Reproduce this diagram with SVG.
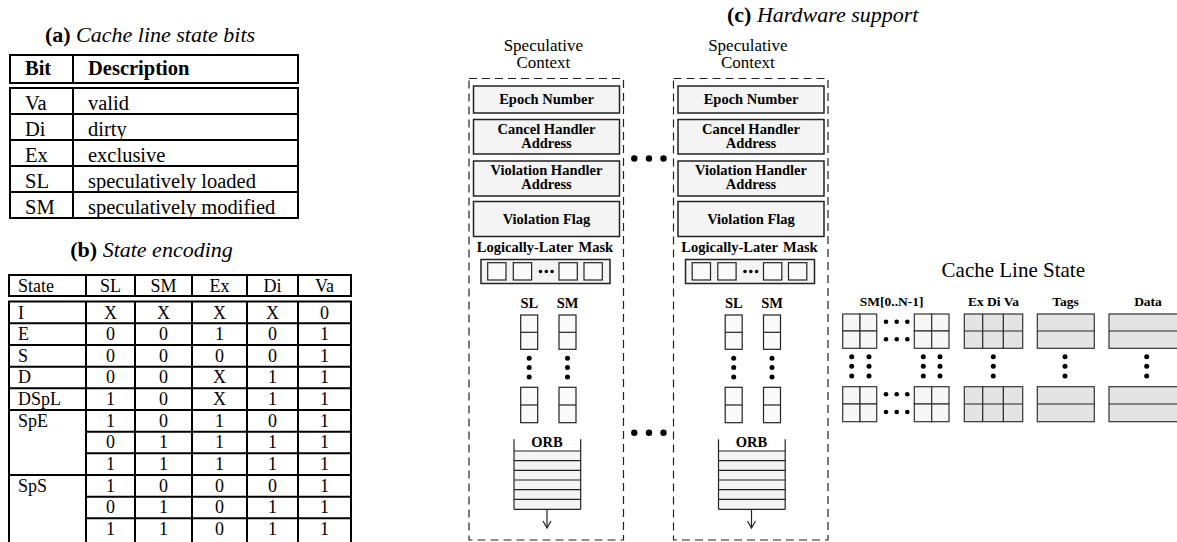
<svg xmlns="http://www.w3.org/2000/svg" width="1177" height="542" viewBox="0 0 1177 542">
<style>
text { font-family: "Liberation Serif", "Times New Roman", serif; fill: #000; }
.title { font-size: 22px; }
.ta { font-size: 20.5px; }
.tb { font-size: 18px; }
.c { text-anchor: middle; }
.b { font-weight: bold; }
.it { font-style: italic; }
.tbl { fill: #fff; stroke: #000; stroke-width: 2; }
.tl { stroke: #000; stroke-width: 2; fill: none; }
.ctx { fill: #fff; stroke: #222; stroke-width: 1.2; stroke-dasharray: 8 5; }
.reg { fill: #f4f4f4; stroke: #222; stroke-width: 1.5; }
.lbl { font-size: 14.5px; font-weight: bold; text-anchor: middle; }
.sc { font-size: 17px; text-anchor: middle; }
.sq { fill: #fafafa; stroke: #222; stroke-width: 1.2; }
.ln { stroke: #222; stroke-width: 1.2; fill: none; }
.dot { fill: #000; }
.g1 { fill: #f7f7f7; stroke: #333; stroke-width: 1.2; }
.g2 { fill: #e4e4e4; stroke: #333; stroke-width: 1.2; }
.orb { fill: #f4f4f4; stroke: none; }
</style>

<!-- (a) table -->
<g id="table-a">
  <text x="150" y="42" class="title c"><tspan class="b">(a)</tspan> <tspan class="it">Cache line state bits</tspan></text>
  <rect x="10" y="55" width="288" height="28" class="tbl"/>
  <rect x="10" y="88" width="288" height="130" class="tbl"/>
  <line x1="73" y1="55" x2="73" y2="83" class="tl"/>
  <line x1="73" y1="88" x2="73" y2="218" class="tl"/>
  <line x1="10" y1="114" x2="298" y2="114" class="tl"/>
  <line x1="10" y1="140" x2="298" y2="140" class="tl"/>
  <line x1="10" y1="166" x2="298" y2="166" class="tl"/>
  <line x1="10" y1="192" x2="298" y2="192" class="tl"/>
  <text x="25" y="75" class="ta b">Bit</text>
  <text x="88" y="75" class="ta b">Description</text>
  <text x="25" y="110" class="ta">Va</text><text x="88" y="110" class="ta">valid</text>
  <text x="25" y="136" class="ta">Di</text><text x="88" y="136" class="ta">dirty</text>
  <text x="25" y="162" class="ta">Ex</text><text x="88" y="162" class="ta">exclusive</text>
  <text x="25" y="188" class="ta">SL</text><text x="88" y="188" class="ta">speculatively loaded</text>
  <text x="25" y="214" class="ta">SM</text><text x="88" y="214" class="ta">speculatively modified</text>
</g>

<!-- (b) table -->
<g id="table-b">
  <text x="151.5" y="257" class="title c"><tspan class="b">(b)</tspan> <tspan class="it">State encoding</tspan></text>
  <rect x="9" y="275" width="342" height="21" class="tbl"/>
  <rect x="9" y="301.5" width="342" height="250" class="tbl"/>
  <g class="tl">
    <line x1="86" y1="275" x2="86" y2="296"/><line x1="135" y1="275" x2="135" y2="296"/>
    <line x1="192" y1="275" x2="192" y2="296"/><line x1="247" y1="275" x2="247" y2="296"/>
    <line x1="298" y1="275" x2="298" y2="296"/>
    <line x1="86" y1="301.5" x2="86" y2="545"/><line x1="135" y1="301.5" x2="135" y2="545"/>
    <line x1="192" y1="301.5" x2="192" y2="545"/><line x1="247" y1="301.5" x2="247" y2="545"/>
    <line x1="298" y1="301.5" x2="298" y2="545"/>
    <line x1="9" y1="323.3" x2="351" y2="323.3"/><line x1="9" y1="345" x2="351" y2="345"/>
    <line x1="9" y1="366.7" x2="351" y2="366.7"/><line x1="9" y1="388.3" x2="351" y2="388.3"/>
    <line x1="9" y1="410" x2="351" y2="410"/><line x1="9" y1="475" x2="351" y2="475"/>
    <line x1="86" y1="431.7" x2="351" y2="431.7"/><line x1="86" y1="453.3" x2="351" y2="453.3"/>
    <line x1="86" y1="496.7" x2="351" y2="496.7"/><line x1="86" y1="518.3" x2="351" y2="518.3"/>
  </g>
  <g class="tb">
    <text x="18" y="291.5">State</text>
    <text x="110.5" y="291.5" class="c">SL</text><text x="163.5" y="291.5" class="c">SM</text>
    <text x="219.5" y="291.5" class="c">Ex</text><text x="272.5" y="291.5" class="c">Di</text>
    <text x="324.5" y="291.5" class="c">Va</text>

    <text x="18" y="318.5">I</text>
    <text x="110.5" y="318.5" class="c">X</text><text x="163.5" y="318.5" class="c">X</text><text x="219.5" y="318.5" class="c">X</text><text x="272.5" y="318.5" class="c">X</text><text x="324.5" y="318.5" class="c">0</text>
    <text x="18" y="340">E</text>
    <text x="110.5" y="340" class="c">0</text><text x="163.5" y="340" class="c">0</text><text x="219.5" y="340" class="c">1</text><text x="272.5" y="340" class="c">0</text><text x="324.5" y="340" class="c">1</text>
    <text x="18" y="361.7">S</text>
    <text x="110.5" y="361.7" class="c">0</text><text x="163.5" y="361.7" class="c">0</text><text x="219.5" y="361.7" class="c">0</text><text x="272.5" y="361.7" class="c">0</text><text x="324.5" y="361.7" class="c">1</text>
    <text x="18" y="383.4">D</text>
    <text x="110.5" y="383.4" class="c">0</text><text x="163.5" y="383.4" class="c">0</text><text x="219.5" y="383.4" class="c">X</text><text x="272.5" y="383.4" class="c">1</text><text x="324.5" y="383.4" class="c">1</text>
    <text x="18" y="405">DSpL</text>
    <text x="110.5" y="405" class="c">1</text><text x="163.5" y="405" class="c">0</text><text x="219.5" y="405" class="c">X</text><text x="272.5" y="405" class="c">1</text><text x="324.5" y="405" class="c">1</text>
    <text x="18" y="426.7">SpE</text>
    <text x="110.5" y="426.7" class="c">1</text><text x="163.5" y="426.7" class="c">0</text><text x="219.5" y="426.7" class="c">1</text><text x="272.5" y="426.7" class="c">0</text><text x="324.5" y="426.7" class="c">1</text>
    <text x="110.5" y="448.4" class="c">0</text><text x="163.5" y="448.4" class="c">1</text><text x="219.5" y="448.4" class="c">1</text><text x="272.5" y="448.4" class="c">1</text><text x="324.5" y="448.4" class="c">1</text>
    <text x="110.5" y="470" class="c">1</text><text x="163.5" y="470" class="c">1</text><text x="219.5" y="470" class="c">1</text><text x="272.5" y="470" class="c">1</text><text x="324.5" y="470" class="c">1</text>
    <text x="18" y="491.7">SpS</text>
    <text x="110.5" y="491.7" class="c">1</text><text x="163.5" y="491.7" class="c">0</text><text x="219.5" y="491.7" class="c">0</text><text x="272.5" y="491.7" class="c">0</text><text x="324.5" y="491.7" class="c">1</text>
    <text x="110.5" y="513.4" class="c">0</text><text x="163.5" y="513.4" class="c">1</text><text x="219.5" y="513.4" class="c">0</text><text x="272.5" y="513.4" class="c">1</text><text x="324.5" y="513.4" class="c">1</text>
    <text x="110.5" y="535" class="c">1</text><text x="163.5" y="535" class="c">1</text><text x="219.5" y="535" class="c">0</text><text x="272.5" y="535" class="c">1</text><text x="324.5" y="535" class="c">1</text>
  </g>
</g>

<!-- (c) hardware support -->
<text x="727" y="22" class="title"><tspan class="b">(c)</tspan> <tspan class="it">Hardware support</tspan></text>

<g id="context-1">
  <text x="543.3" y="51" class="sc">Speculative</text>
  <text x="543.3" y="68" class="sc">Context</text>
  <rect x="469" y="78.5" width="154.5" height="461.5" class="ctx"/>
  <rect x="473.5" y="86" width="146" height="27" class="reg"/>
  <text x="546.5" y="104" class="lbl">Epoch Number</text>
  <rect x="473.5" y="119.5" width="146" height="34.5" class="reg"/>
  <text x="546.5" y="133.5" class="lbl">Cancel Handler</text>
  <text x="546.5" y="148" class="lbl">Address</text>
  <rect x="473.5" y="161" width="146" height="35" class="reg"/>
  <text x="546.5" y="175" class="lbl">Violation Handler</text>
  <text x="546.5" y="189" class="lbl">Address</text>
  <rect x="473.5" y="201.5" width="146" height="35" class="reg"/>
  <text x="546.5" y="224" class="lbl">Violation Flag</text>
  <text x="545" y="251.5" class="lbl">Logically-Later<tspan dx="5">Mask</tspan></text>
  <rect x="481" y="259.5" width="129" height="24" class="reg"/>
  <rect x="487.7" y="262.7" width="18.3" height="17.3" class="sq"/>
  <rect x="513.3" y="262.7" width="18.3" height="17.3" class="sq"/>
  <rect x="559" y="262.7" width="18.3" height="17.3" class="sq"/>
  <rect x="584" y="262.7" width="18.3" height="17.3" class="sq"/>
  <circle cx="540.5" cy="271.5" r="1.8" class="dot"/><circle cx="546.3" cy="271.5" r="1.8" class="dot"/><circle cx="552.1" cy="271.5" r="1.8" class="dot"/>
  <text x="529.3" y="308" class="lbl">SL</text>
  <text x="567.5" y="308" class="lbl">SM</text>
  <rect x="520.7" y="315" width="17" height="34.3" class="sq"/><line x1="520.7" y1="332.3" x2="537.7" y2="332.3" class="ln"/>
  <rect x="559" y="315" width="17" height="34.3" class="sq"/><line x1="559" y1="332.3" x2="576" y2="332.3" class="ln"/>
  <rect x="520.7" y="387.3" width="17" height="35.4" class="sq"/><line x1="520.7" y1="405" x2="537.7" y2="405" class="ln"/>
  <rect x="559" y="387.3" width="17" height="35.4" class="sq"/><line x1="559" y1="405" x2="576" y2="405" class="ln"/>
  <circle cx="529.2" cy="358.3" r="2.5" class="dot"/><circle cx="529.2" cy="367.5" r="2.5" class="dot"/><circle cx="529.2" cy="377" r="2.5" class="dot"/>
  <circle cx="567.5" cy="358.3" r="2.5" class="dot"/><circle cx="567.5" cy="367.5" r="2.5" class="dot"/><circle cx="567.5" cy="377" r="2.5" class="dot"/>
  <text x="547" y="447" class="lbl">ORB</text>
  <rect x="514" y="451" width="66.7" height="58.3" class="orb"/>
  <g class="ln">
    <line x1="514" y1="439.3" x2="514" y2="509.3"/><line x1="580.7" y1="439.3" x2="580.7" y2="509.3"/>
    <line x1="514" y1="451" x2="580.7" y2="451"/><line x1="514" y1="460.7" x2="580.7" y2="460.7"/>
    <line x1="514" y1="470.3" x2="580.7" y2="470.3"/><line x1="514" y1="480" x2="580.7" y2="480"/>
    <line x1="514" y1="489.7" x2="580.7" y2="489.7"/><line x1="514" y1="499.3" x2="580.7" y2="499.3"/>
    <line x1="514" y1="509.3" x2="580.7" y2="509.3"/>
  </g>
</g>

<g id="context-2" transform="translate(204.5,0)">
  <text x="543.3" y="51" class="sc">Speculative</text>
  <text x="543.3" y="68" class="sc">Context</text>
  <rect x="469" y="78.5" width="154.5" height="461.5" class="ctx"/>
  <rect x="473.5" y="86" width="146" height="27" class="reg"/>
  <text x="546.5" y="104" class="lbl">Epoch Number</text>
  <rect x="473.5" y="119.5" width="146" height="34.5" class="reg"/>
  <text x="546.5" y="133.5" class="lbl">Cancel Handler</text>
  <text x="546.5" y="148" class="lbl">Address</text>
  <rect x="473.5" y="161" width="146" height="35" class="reg"/>
  <text x="546.5" y="175" class="lbl">Violation Handler</text>
  <text x="546.5" y="189" class="lbl">Address</text>
  <rect x="473.5" y="201.5" width="146" height="35" class="reg"/>
  <text x="546.5" y="224" class="lbl">Violation Flag</text>
  <text x="545" y="251.5" class="lbl">Logically-Later<tspan dx="5">Mask</tspan></text>
  <rect x="481" y="259.5" width="129" height="24" class="reg"/>
  <rect x="487.7" y="262.7" width="18.3" height="17.3" class="sq"/>
  <rect x="513.3" y="262.7" width="18.3" height="17.3" class="sq"/>
  <rect x="559" y="262.7" width="18.3" height="17.3" class="sq"/>
  <rect x="584" y="262.7" width="18.3" height="17.3" class="sq"/>
  <circle cx="540.5" cy="271.5" r="1.8" class="dot"/><circle cx="546.3" cy="271.5" r="1.8" class="dot"/><circle cx="552.1" cy="271.5" r="1.8" class="dot"/>
  <text x="529.3" y="308" class="lbl">SL</text>
  <text x="567.5" y="308" class="lbl">SM</text>
  <rect x="520.7" y="315" width="17" height="34.3" class="sq"/><line x1="520.7" y1="332.3" x2="537.7" y2="332.3" class="ln"/>
  <rect x="559" y="315" width="17" height="34.3" class="sq"/><line x1="559" y1="332.3" x2="576" y2="332.3" class="ln"/>
  <rect x="520.7" y="387.3" width="17" height="35.4" class="sq"/><line x1="520.7" y1="405" x2="537.7" y2="405" class="ln"/>
  <rect x="559" y="387.3" width="17" height="35.4" class="sq"/><line x1="559" y1="405" x2="576" y2="405" class="ln"/>
  <circle cx="529.2" cy="358.3" r="2.5" class="dot"/><circle cx="529.2" cy="367.5" r="2.5" class="dot"/><circle cx="529.2" cy="377" r="2.5" class="dot"/>
  <circle cx="567.5" cy="358.3" r="2.5" class="dot"/><circle cx="567.5" cy="367.5" r="2.5" class="dot"/><circle cx="567.5" cy="377" r="2.5" class="dot"/>
  <text x="547" y="447" class="lbl">ORB</text>
  <rect x="514" y="451" width="66.7" height="58.3" class="orb"/>
  <g class="ln">
    <line x1="514" y1="439.3" x2="514" y2="509.3"/><line x1="580.7" y1="439.3" x2="580.7" y2="509.3"/>
    <line x1="514" y1="451" x2="580.7" y2="451"/><line x1="514" y1="460.7" x2="580.7" y2="460.7"/>
    <line x1="514" y1="470.3" x2="580.7" y2="470.3"/><line x1="514" y1="480" x2="580.7" y2="480"/>
    <line x1="514" y1="489.7" x2="580.7" y2="489.7"/><line x1="514" y1="499.3" x2="580.7" y2="499.3"/>
    <line x1="514" y1="509.3" x2="580.7" y2="509.3"/>
  </g>
</g>

<g id="context-ellipsis">
  <circle cx="634.3" cy="158.5" r="3.2" class="dot"/><circle cx="649" cy="158.5" r="3.2" class="dot"/><circle cx="663.5" cy="158.5" r="3.2" class="dot"/>
  <circle cx="634.3" cy="432.7" r="3.2" class="dot"/><circle cx="649" cy="432.7" r="3.2" class="dot"/><circle cx="663.5" cy="432.7" r="3.2" class="dot"/>
</g>

<g id="connectors" class="ln">
  <line x1="547" y1="509.3" x2="547" y2="528"/>
  <polyline points="543,521 547,528 551,521"/>
  <line x1="751.5" y1="509.3" x2="751.5" y2="528"/>
  <polyline points="747.5,521 751.5,528 755.5,521"/>
</g>

<g id="cache-line-state">
  <text x="1013.3" y="277" style="font-size:21px" class="c">Cache Line State</text>
  <text x="891.7" y="306" class="lbl" style="font-size:13.5px">SM[0..N-1]</text>
  <text x="993.5" y="306" class="lbl" style="font-size:13.5px">Ex Di Va</text>
  <text x="1065.5" y="306" class="lbl" style="font-size:13.5px">Tags</text>
  <text x="1148" y="306" class="lbl" style="font-size:13.5px">Data</text>
  <g class="g1">
    <rect x="842.7" y="314" width="17.3" height="17"/><rect x="860" y="314" width="16.7" height="17"/>
    <rect x="842.7" y="331" width="17.3" height="17.3"/><rect x="860" y="331" width="16.7" height="17.3"/>
    <rect x="914.3" y="314" width="17.4" height="17"/><rect x="931.7" y="314" width="17.3" height="17"/>
    <rect x="914.3" y="331" width="17.4" height="17.3"/><rect x="931.7" y="331" width="17.3" height="17.3"/>
    <rect x="842.7" y="386.7" width="17.3" height="17.3"/><rect x="860" y="386.7" width="16.7" height="17.3"/>
    <rect x="842.7" y="404" width="17.3" height="17.7"/><rect x="860" y="404" width="16.7" height="17.7"/>
    <rect x="914.3" y="386.7" width="17.4" height="17.3"/><rect x="931.7" y="386.7" width="17.3" height="17.3"/>
    <rect x="914.3" y="404" width="17.4" height="17.7"/><rect x="931.7" y="404" width="17.3" height="17.7"/>
  </g>
  <g class="g2">
    <rect x="964.3" y="314" width="58.4" height="34.3"/>
    <rect x="1037.3" y="314" width="57" height="34.3"/>
    <rect x="1109" y="314" width="80" height="34.3"/>
    <rect x="964.3" y="386.7" width="58.4" height="35"/>
    <rect x="1037.3" y="386.7" width="57" height="35"/>
    <rect x="1109" y="386.7" width="80" height="35"/>
  </g>
  <g class="ln">
    <line x1="964.3" y1="331" x2="1022.7" y2="331"/><line x1="1037.3" y1="331" x2="1094.3" y2="331"/><line x1="1109" y1="331" x2="1177" y2="331"/>
    <line x1="964.3" y1="404" x2="1022.7" y2="404"/><line x1="1037.3" y1="404" x2="1094.3" y2="404"/><line x1="1109" y1="404" x2="1177" y2="404"/>
    <line x1="982.7" y1="314" x2="982.7" y2="348.3"/><line x1="1003.3" y1="314" x2="1003.3" y2="348.3"/>
    <line x1="982.7" y1="386.7" x2="982.7" y2="421.7"/><line x1="1003.3" y1="386.7" x2="1003.3" y2="421.7"/>
  </g>
  <g class="dot">
    <circle cx="886" cy="321.7" r="2.3"/><circle cx="896.7" cy="321.7" r="2.3"/><circle cx="907.3" cy="321.7" r="2.3"/>
    <circle cx="886" cy="339.3" r="2.3"/><circle cx="896.7" cy="339.3" r="2.3"/><circle cx="907.3" cy="339.3" r="2.3"/>
    <circle cx="886" cy="394.3" r="2.3"/><circle cx="896.7" cy="394.3" r="2.3"/><circle cx="907.3" cy="394.3" r="2.3"/>
    <circle cx="886" cy="412" r="2.3"/><circle cx="896.7" cy="412" r="2.3"/><circle cx="907.3" cy="412" r="2.3"/>
    <circle cx="851.7" cy="356.7" r="2.5"/><circle cx="851.7" cy="366.3" r="2.5"/><circle cx="851.7" cy="376" r="2.5"/>
    <circle cx="869" cy="356.7" r="2.5"/><circle cx="869" cy="366.3" r="2.5"/><circle cx="869" cy="376" r="2.5"/>
    <circle cx="923.3" cy="356.7" r="2.5"/><circle cx="923.3" cy="366.3" r="2.5"/><circle cx="923.3" cy="376" r="2.5"/>
    <circle cx="940" cy="356.7" r="2.5"/><circle cx="940" cy="366.3" r="2.5"/><circle cx="940" cy="376" r="2.5"/>
    <circle cx="993.3" cy="356.7" r="2.5"/><circle cx="993.3" cy="366.3" r="2.5"/><circle cx="993.3" cy="376" r="2.5"/>
    <circle cx="1065" cy="356.7" r="2.5"/><circle cx="1065" cy="366.3" r="2.5"/><circle cx="1065" cy="376" r="2.5"/>
    <circle cx="1146.7" cy="356.7" r="2.5"/><circle cx="1146.7" cy="366.3" r="2.5"/><circle cx="1146.7" cy="376" r="2.5"/>
  </g>
</g>
</svg>
